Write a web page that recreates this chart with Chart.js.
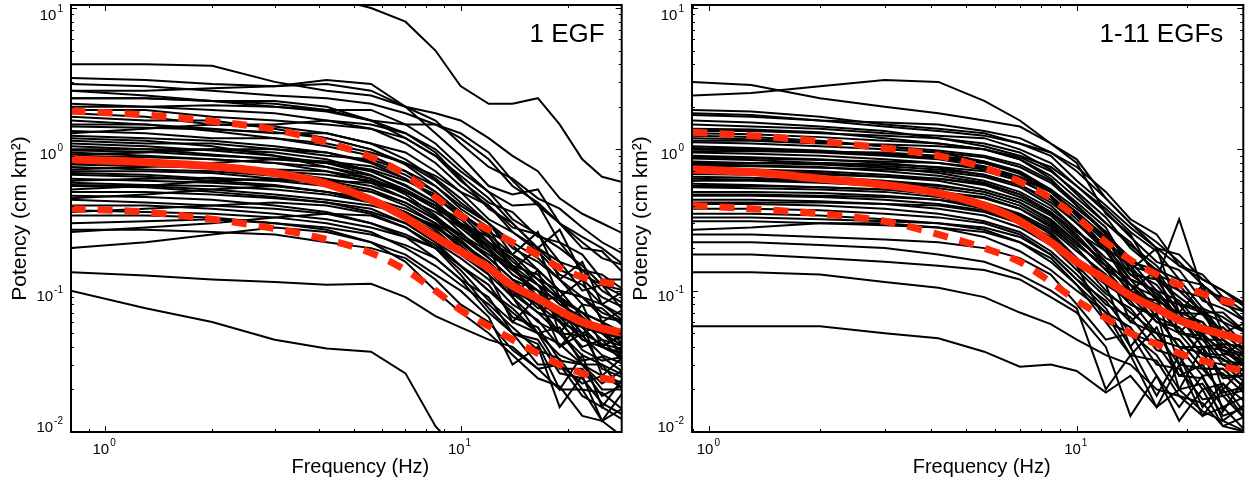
<!DOCTYPE html>
<html>
<head>
<meta charset="utf-8">
<script src="https://cdn.jsdelivr.net/npm/chart.js@4.4.1/dist/chart.umd.min.js"></script>
<style>
  body { margin: 0; background: #fff; }
  #left, #right { position: absolute; top: 0; }
  #left { left: 0; }
  #right { left: 630px; }
</style>
</head>
<body>
<canvas id="left" width="630" height="487"></canvas>
<canvas id="right" width="619" height="487"></canvas>
<script>
// Frequency samples (Hz) for each panel
const freqs1 = [0.8, 1.3, 2, 3, 4.2, 5.6, 7, 8.5, 10, 12, 14, 16.5, 19, 22, 25, 29];
const freqs11 = [0.9, 1.3, 2, 3, 4.2, 5.6, 7, 8.5, 10, 12, 14, 16.5, 19, 22, 25, 29];

// Red summary curves, 1 EGF panel
const median1 = [0.85, 0.81, 0.76, 0.68, 0.57, 0.44, 0.33, 0.24, 0.19, 0.145, 0.108, 0.088, 0.072, 0.06, 0.054, 0.05];
const upper1 = [1.87, 1.75, 1.58, 1.38, 1.12, 0.88, 0.66, 0.46, 0.34, 0.27, 0.22, 0.18, 0.145, 0.125, 0.115, 0.11];
const lower1 = [0.38, 0.36, 0.32, 0.275, 0.23, 0.185, 0.14, 0.1, 0.073, 0.056, 0.045, 0.036, 0.03, 0.026, 0.024, 0.023];

// Red summary curves, 1-11 EGFs panel
const median11 = [0.72, 0.69, 0.62, 0.56, 0.49, 0.4, 0.31, 0.22, 0.16, 0.12, 0.092, 0.075, 0.062, 0.054, 0.049, 0.044];
const upper11 = [1.32, 1.25, 1.14, 1.02, 0.9, 0.74, 0.59, 0.45, 0.33, 0.22, 0.165, 0.13, 0.11, 0.095, 0.085, 0.078];
const lower11 = [0.4, 0.38, 0.35, 0.31, 0.25, 0.2, 0.16, 0.115, 0.085, 0.064, 0.05, 0.042, 0.036, 0.032, 0.029, 0.027];

// Individual spectra (black), 1 EGF
const spectra1 = [
  [16, 16, 15, 14, 12, 10, 8, 5, 2.8, 2.1, 2.1, 2.3, 1.5, 0.85, 0.64, 0.58],
  [4.0, 4.0, 3.9, 3.0, 2.6, 2.4, 2.0, 1.6, 1.1, 0.75, 0.62, 0.45, 0.38, 0.28, 0.22, 0.18],
  [3.2, 3.1, 2.9, 2.8, 3.1, 2.9, 2.0, 1.3, 0.9, 0.55, 0.48, 0.52, 0.3, 0.24, 0.2, 0.15],
  [2.9, 2.8, 2.6, 2.4, 2.3, 2.1, 1.8, 1.5, 1.2, 0.85, 0.55, 0.42, 0.3, 0.2, 0.19, 0.13],
  [2.6, 2.6, 2.7, 2.8, 2.9, 2.6, 2.0, 1.8, 1.6, 1.2, 0.9, 0.7, 0.45, 0.35, 0.3, 0.25],
  [2.6, 2.4, 2.2, 2.2, 2.0, 1.6, 1.2, 0.9, 0.6, 0.42, 0.36, 0.24, 0.22, 0.14, 0.13, 0.1],
  [2.3, 2.3, 2.2, 2.1, 1.9, 1.6, 1.5, 1.5, 1.3, 0.95, 0.6, 0.4, 0.3, 0.22, 0.17, 0.15],
  [2.3, 2.3, 2.2, 2.0, 1.9, 1.9, 1.5, 1.1, 0.75, 0.5, 0.4, 0.41, 0.22, 0.18, 0.12, 0.12],
  [2.1, 2.0, 1.9, 1.8, 1.6, 1.4, 1.1, 0.8, 0.55, 0.4, 0.28, 0.25, 0.16, 0.14, 0.1, 0.08],
  [2.0, 2.0, 2.05, 2.0, 1.85, 1.6, 1.3, 0.95, 0.62, 0.38, 0.3, 0.2, 0.14, 0.12, 0.09, 0.075],
  [1.9, 1.9, 1.7, 1.6, 1.5, 1.4, 1.2, 0.9, 0.65, 0.45, 0.3, 0.2, 0.27, 0.13, 0.11, 0.09],
  [1.8, 1.7, 1.5, 1.5, 1.6, 1.5, 1.3, 1.0, 0.7, 0.5, 0.32, 0.25, 0.2, 0.15, 0.11, 0.1],
  [1.7, 1.6, 1.6, 1.4, 1.2, 1.0, 0.8, 0.6, 0.42, 0.3, 0.18, 0.26, 0.12, 0.16, 0.08, 0.1],
  [1.6, 1.5, 1.35, 1.2, 1.05, 0.9, 0.7, 0.5, 0.36, 0.25, 0.18, 0.14, 0.1, 0.09, 0.07, 0.06],
  [1.5, 1.5, 1.4, 1.3, 1.3, 1.1, 0.95, 0.7, 0.5, 0.32, 0.26, 0.19, 0.13, 0.11, 0.08, 0.065],
  [1.45, 1.42, 1.38, 1.32, 1.2, 1.0, 0.78, 0.55, 0.4, 0.3, 0.2, 0.16, 0.12, 0.08, 0.075, 0.055],
  [1.35, 1.3, 1.2, 1.2, 1.1, 0.95, 0.8, 0.65, 0.5, 0.4, 0.26, 0.2, 0.16, 0.1, 0.11, 0.07],
  [1.3, 1.4, 1.5, 1.45, 1.3, 1.1, 0.85, 0.62, 0.45, 0.3, 0.22, 0.17, 0.12, 0.09, 0.08, 0.06],
  [1.25, 1.2, 1.15, 1.05, 0.95, 0.8, 0.62, 0.45, 0.35, 0.26, 0.21, 0.14, 0.1, 0.09, 0.065, 0.06],
  [1.2, 1.15, 1.05, 0.9, 0.75, 0.62, 0.5, 0.4, 0.32, 0.22, 0.15, 0.11, 0.08, 0.065, 0.05, 0.04],
  [1.15, 1.1, 1.1, 1.0, 0.9, 0.85, 0.7, 0.55, 0.38, 0.28, 0.14, 0.2, 0.09, 0.12, 0.06, 0.075],
  [1.1, 1.05, 0.98, 0.9, 0.8, 0.66, 0.5, 0.38, 0.3, 0.24, 0.16, 0.12, 0.085, 0.07, 0.06, 0.05],
  [1.05, 1.0, 1.0, 0.95, 0.85, 0.7, 0.55, 0.42, 0.3, 0.22, 0.18, 0.12, 0.1, 0.065, 0.05, 0.048],
  [1.0, 1.0, 0.92, 0.85, 0.8, 0.72, 0.6, 0.48, 0.36, 0.24, 0.15, 0.13, 0.09, 0.07, 0.06, 0.04],
  [0.98, 0.96, 0.9, 0.86, 0.82, 0.76, 0.62, 0.46, 0.33, 0.2, 0.13, 0.1, 0.065, 0.055, 0.04, 0.036],
  [0.95, 0.9, 0.85, 0.8, 0.7, 0.58, 0.45, 0.33, 0.25, 0.19, 0.13, 0.1, 0.085, 0.055, 0.05, 0.04],
  [0.92, 0.95, 1.0, 1.0, 0.95, 0.82, 0.66, 0.5, 0.35, 0.22, 0.17, 0.11, 0.09, 0.07, 0.05, 0.045],
  [0.9, 0.88, 0.85, 0.8, 0.75, 0.65, 0.52, 0.4, 0.28, 0.2, 0.09, 0.14, 0.05, 0.08, 0.04, 0.05],
  [0.85, 0.82, 0.78, 0.7, 0.62, 0.55, 0.45, 0.36, 0.28, 0.19, 0.15, 0.085, 0.09, 0.055, 0.04, 0.05],
  [0.8, 0.78, 0.75, 0.7, 0.66, 0.6, 0.5, 0.38, 0.26, 0.17, 0.12, 0.1, 0.06, 0.05, 0.058, 0.03],
  [0.78, 0.76, 0.74, 0.72, 0.7, 0.62, 0.48, 0.34, 0.24, 0.18, 0.14, 0.1, 0.07, 0.06, 0.045, 0.04],
  [0.75, 0.72, 0.7, 0.65, 0.55, 0.45, 0.36, 0.28, 0.22, 0.16, 0.11, 0.075, 0.075, 0.045, 0.04, 0.035],
  [0.72, 0.75, 0.8, 0.85, 0.8, 0.7, 0.56, 0.42, 0.3, 0.2, 0.14, 0.11, 0.065, 0.06, 0.05, 0.035],
  [0.7, 0.7, 0.68, 0.62, 0.58, 0.5, 0.4, 0.3, 0.2, 0.14, 0.1, 0.08, 0.05, 0.048, 0.035, 0.03],
  [0.68, 0.66, 0.62, 0.6, 0.6, 0.58, 0.5, 0.4, 0.29, 0.21, 0.15, 0.09, 0.075, 0.05, 0.042, 0.038],
  [0.66, 0.64, 0.6, 0.56, 0.5, 0.45, 0.38, 0.3, 0.23, 0.15, 0.095, 0.07, 0.062, 0.038, 0.032, 0.034],
  [0.62, 0.6, 0.58, 0.55, 0.5, 0.42, 0.34, 0.26, 0.18, 0.13, 0.06, 0.09, 0.04, 0.06, 0.025, 0.035],
  [0.6, 0.62, 0.63, 0.6, 0.55, 0.5, 0.42, 0.32, 0.24, 0.17, 0.12, 0.085, 0.065, 0.045, 0.04, 0.033],
  [0.58, 0.56, 0.55, 0.52, 0.48, 0.42, 0.36, 0.28, 0.21, 0.14, 0.1, 0.07, 0.05, 0.032, 0.034, 0.026],
  [0.56, 0.55, 0.52, 0.48, 0.44, 0.4, 0.35, 0.29, 0.2, 0.14, 0.09, 0.05, 0.055, 0.03, 0.025, 0.022],
  [0.55, 0.54, 0.5, 0.46, 0.42, 0.36, 0.3, 0.22, 0.17, 0.12, 0.08, 0.062, 0.04, 0.05, 0.028, 0.024],
  [0.52, 0.55, 0.6, 0.62, 0.6, 0.52, 0.42, 0.32, 0.22, 0.15, 0.1, 0.08, 0.06, 0.04, 0.045, 0.03],
  [0.5, 0.5, 0.48, 0.45, 0.42, 0.38, 0.3, 0.22, 0.15, 0.1, 0.075, 0.05, 0.042, 0.03, 0.03, 0.019],
  [0.47, 0.46, 0.44, 0.4, 0.36, 0.3, 0.25, 0.2, 0.15, 0.11, 0.065, 0.055, 0.032, 0.03, 0.022, 0.028],
  [0.45, 0.48, 0.52, 0.55, 0.5, 0.44, 0.36, 0.27, 0.19, 0.13, 0.09, 0.06, 0.05, 0.035, 0.03, 0.025],
  [0.44, 0.42, 0.4, 0.38, 0.35, 0.3, 0.24, 0.17, 0.12, 0.09, 0.05, 0.042, 0.02, 0.035, 0.015, 0.025],
  [0.4, 0.4, 0.38, 0.35, 0.32, 0.28, 0.24, 0.2, 0.14, 0.085, 0.06, 0.05, 0.028, 0.028, 0.018, 0.022],
  [0.37, 0.36, 0.35, 0.33, 0.3, 0.26, 0.2, 0.15, 0.11, 0.08, 0.055, 0.038, 0.033, 0.02, 0.019, 0.014],
  [0.36, 0.38, 0.4, 0.42, 0.4, 0.35, 0.28, 0.21, 0.15, 0.1, 0.07, 0.05, 0.035, 0.03, 0.02, 0.02],
  [0.34, 0.34, 0.33, 0.3, 0.28, 0.25, 0.21, 0.17, 0.12, 0.07, 0.05, 0.045, 0.026, 0.024, 0.016, 0.013],
  [0.3, 0.31, 0.32, 0.3, 0.27, 0.22, 0.18, 0.13, 0.1, 0.065, 0.03, 0.04, 0.015, 0.025, 0.012, 0.02],
  [0.27, 0.27, 0.26, 0.25, 0.22, 0.2, 0.17, 0.12, 0.08, 0.06, 0.038, 0.028, 0.02, 0.02, 0.012, 0.015],
  [0.26, 0.28, 0.3, 0.33, 0.35, 0.34, 0.28, 0.2, 0.13, 0.075, 0.05, 0.03, 0.03, 0.018, 0.015, 0.012],
  [0.2, 0.22, 0.25, 0.28, 0.26, 0.22, 0.16, 0.1, 0.07, 0.05, 0.035, 0.024, 0.021, 0.013, 0.012, 0.009],
  [0.135, 0.128, 0.12, 0.115, 0.11, 0.112, 0.09, 0.066, 0.055, 0.045, 0.04, 0.028, 0.03, 0.022, 0.025, 0.02],
  [0.1, 0.075, 0.06, 0.045, 0.039, 0.037, 0.026, 0.011, 0.007, 0.005, 0.004, 0.004, 0.004, 0.004, 0.004, 0.004]
];

// Individual spectra (black), 1-11 EGFs
const spectra11 = [
  [2.4, 2.5, 2.8, 3.1, 3.0, 2.2, 1.6, 1.1, 0.85, 0.45, 0.3, 0.2, 0.18, 0.12, 0.1, 0.08],
  [3.0, 2.85, 2.3, 2.0, 1.8, 1.6, 1.45, 1.1, 0.8, 0.35, 0.25, 0.12, 0.32, 0.1, 0.09, 0.07],
  [1.9, 1.85, 1.7, 1.5, 1.4, 1.3, 1.1, 0.9, 0.6, 0.4, 0.28, 0.2, 0.15, 0.12, 0.1, 0.075],
  [1.8, 1.75, 1.6, 1.45, 1.35, 1.25, 1.1, 0.95, 0.75, 0.5, 0.32, 0.25, 0.15, 0.13, 0.09, 0.08],
  [1.75, 1.7, 1.6, 1.55, 1.5, 1.35, 1.2, 0.95, 0.7, 0.45, 0.3, 0.22, 0.16, 0.11, 0.08, 0.07],
  [1.6, 1.55, 1.45, 1.35, 1.2, 1.05, 0.9, 0.75, 0.55, 0.38, 0.26, 0.19, 0.12, 0.11, 0.085, 0.06],
  [1.5, 1.45, 1.4, 1.3, 1.25, 1.2, 1.0, 0.8, 0.55, 0.36, 0.24, 0.16, 0.14, 0.085, 0.075, 0.06],
  [1.4, 1.38, 1.32, 1.2, 1.1, 1.0, 0.85, 0.65, 0.45, 0.3, 0.21, 0.15, 0.1, 0.09, 0.06, 0.05],
  [1.35, 1.35, 1.3, 1.25, 1.2, 1.1, 0.95, 0.72, 0.48, 0.3, 0.22, 0.13, 0.11, 0.07, 0.07, 0.05],
  [1.3, 1.28, 1.22, 1.15, 1.1, 1.0, 0.88, 0.7, 0.5, 0.33, 0.2, 0.14, 0.12, 0.075, 0.065, 0.05],
  [1.25, 1.22, 1.15, 1.05, 0.95, 0.82, 0.68, 0.5, 0.34, 0.24, 0.17, 0.12, 0.09, 0.068, 0.05, 0.042],
  [1.2, 1.18, 1.12, 1.05, 0.98, 0.9, 0.78, 0.6, 0.42, 0.28, 0.14, 0.2, 0.07, 0.11, 0.05, 0.06],
  [1.15, 1.15, 1.1, 1.08, 1.05, 1.0, 0.85, 0.62, 0.4, 0.26, 0.16, 0.14, 0.08, 0.075, 0.05, 0.045],
  [1.12, 1.1, 1.05, 1.0, 0.95, 0.88, 0.75, 0.58, 0.4, 0.25, 0.17, 0.12, 0.1, 0.07, 0.06, 0.04],
  [1.05, 1.02, 0.98, 0.92, 0.86, 0.8, 0.68, 0.52, 0.38, 0.26, 0.15, 0.13, 0.08, 0.07, 0.05, 0.045],
  [1.02, 1.0, 0.97, 0.93, 0.88, 0.8, 0.67, 0.5, 0.35, 0.23, 0.13, 0.12, 0.07, 0.06, 0.042, 0.04],
  [1.0, 0.98, 0.95, 0.9, 0.85, 0.76, 0.64, 0.5, 0.34, 0.22, 0.16, 0.1, 0.085, 0.055, 0.055, 0.04],
  [0.97, 0.97, 0.96, 0.95, 0.9, 0.82, 0.7, 0.52, 0.34, 0.2, 0.15, 0.09, 0.08, 0.05, 0.05, 0.036],
  [0.95, 0.93, 0.9, 0.85, 0.8, 0.72, 0.62, 0.5, 0.36, 0.24, 0.14, 0.11, 0.07, 0.068, 0.045, 0.035],
  [0.9, 0.88, 0.85, 0.8, 0.74, 0.66, 0.56, 0.44, 0.3, 0.2, 0.1, 0.14, 0.05, 0.075, 0.035, 0.045],
  [0.88, 0.86, 0.84, 0.82, 0.8, 0.74, 0.62, 0.46, 0.3, 0.19, 0.12, 0.1, 0.06, 0.055, 0.04, 0.035],
  [0.86, 0.84, 0.8, 0.76, 0.72, 0.66, 0.56, 0.42, 0.3, 0.21, 0.12, 0.1, 0.065, 0.06, 0.038, 0.034],
  [0.82, 0.8, 0.78, 0.74, 0.68, 0.6, 0.5, 0.38, 0.27, 0.17, 0.14, 0.085, 0.07, 0.045, 0.045, 0.03],
  [0.8, 0.8, 0.8, 0.78, 0.75, 0.7, 0.6, 0.47, 0.32, 0.2, 0.13, 0.095, 0.065, 0.048, 0.038, 0.03],
  [0.78, 0.77, 0.75, 0.7, 0.65, 0.58, 0.48, 0.36, 0.26, 0.19, 0.11, 0.09, 0.06, 0.05, 0.036, 0.032],
  [0.76, 0.76, 0.74, 0.72, 0.7, 0.64, 0.54, 0.4, 0.27, 0.16, 0.11, 0.075, 0.07, 0.04, 0.042, 0.028],
  [0.74, 0.72, 0.7, 0.66, 0.62, 0.56, 0.46, 0.35, 0.25, 0.15, 0.12, 0.075, 0.065, 0.04, 0.038, 0.028],
  [0.7, 0.7, 0.68, 0.64, 0.6, 0.52, 0.44, 0.34, 0.23, 0.16, 0.095, 0.085, 0.05, 0.048, 0.032, 0.03],
  [0.68, 0.68, 0.66, 0.64, 0.62, 0.57, 0.48, 0.36, 0.24, 0.15, 0.1, 0.08, 0.05, 0.045, 0.03, 0.03],
  [0.67, 0.66, 0.64, 0.6, 0.56, 0.5, 0.42, 0.31, 0.22, 0.14, 0.11, 0.065, 0.055, 0.036, 0.035, 0.026],
  [0.64, 0.63, 0.6, 0.57, 0.53, 0.48, 0.4, 0.3, 0.21, 0.15, 0.06, 0.09, 0.03, 0.05, 0.02, 0.03],
  [0.62, 0.61, 0.6, 0.58, 0.55, 0.5, 0.42, 0.32, 0.22, 0.14, 0.09, 0.06, 0.055, 0.035, 0.033, 0.024],
  [0.6, 0.6, 0.58, 0.55, 0.5, 0.45, 0.38, 0.28, 0.2, 0.12, 0.1, 0.06, 0.05, 0.032, 0.03, 0.022],
  [0.57, 0.56, 0.54, 0.52, 0.48, 0.42, 0.35, 0.27, 0.19, 0.13, 0.08, 0.065, 0.04, 0.036, 0.024, 0.025],
  [0.55, 0.55, 0.54, 0.52, 0.5, 0.46, 0.38, 0.29, 0.2, 0.12, 0.08, 0.065, 0.04, 0.04, 0.025, 0.025],
  [0.54, 0.53, 0.52, 0.5, 0.46, 0.4, 0.34, 0.25, 0.17, 0.11, 0.085, 0.05, 0.045, 0.028, 0.028, 0.02],
  [0.5, 0.5, 0.49, 0.47, 0.44, 0.38, 0.31, 0.24, 0.16, 0.11, 0.04, 0.07, 0.02, 0.04, 0.014, 0.025],
  [0.48, 0.48, 0.47, 0.46, 0.44, 0.4, 0.34, 0.26, 0.17, 0.1, 0.07, 0.05, 0.045, 0.028, 0.028, 0.02],
  [0.47, 0.47, 0.46, 0.44, 0.41, 0.37, 0.3, 0.22, 0.15, 0.095, 0.075, 0.045, 0.04, 0.025, 0.026, 0.018],
  [0.44, 0.44, 0.43, 0.41, 0.38, 0.34, 0.28, 0.21, 0.14, 0.09, 0.06, 0.05, 0.03, 0.028, 0.019, 0.021],
  [0.42, 0.42, 0.42, 0.41, 0.4, 0.36, 0.3, 0.22, 0.15, 0.06, 0.035, 0.055, 0.025, 0.03, 0.018, 0.02],
  [0.41, 0.41, 0.4, 0.38, 0.35, 0.31, 0.26, 0.19, 0.13, 0.08, 0.065, 0.038, 0.034, 0.02, 0.022, 0.016],
  [0.38, 0.38, 0.37, 0.35, 0.33, 0.3, 0.25, 0.18, 0.12, 0.085, 0.05, 0.042, 0.025, 0.024, 0.015, 0.018],
  [0.35, 0.35, 0.34, 0.32, 0.3, 0.27, 0.22, 0.17, 0.11, 0.07, 0.055, 0.03, 0.028, 0.017, 0.018, 0.012],
  [0.33, 0.33, 0.32, 0.31, 0.3, 0.28, 0.24, 0.18, 0.12, 0.075, 0.04, 0.018, 0.035, 0.015, 0.022, 0.013],
  [0.31, 0.31, 0.3, 0.29, 0.28, 0.26, 0.22, 0.16, 0.11, 0.06, 0.05, 0.035, 0.02, 0.022, 0.013, 0.015],
  [0.27, 0.28, 0.3, 0.3, 0.28, 0.24, 0.19, 0.14, 0.1, 0.07, 0.035, 0.032, 0.018, 0.016, 0.011, 0.013],
  [0.25, 0.25, 0.24, 0.23, 0.22, 0.2, 0.17, 0.13, 0.08, 0.045, 0.05, 0.025, 0.015, 0.025, 0.012, 0.016],
  [0.22, 0.22, 0.21, 0.2, 0.18, 0.16, 0.13, 0.1, 0.075, 0.02, 0.035, 0.015, 0.03, 0.013, 0.02, 0.012],
  [0.18, 0.18, 0.17, 0.16, 0.15, 0.14, 0.12, 0.09, 0.07, 0.04, 0.013, 0.025, 0.012, 0.02, 0.011, 0.01],
  [0.135, 0.135, 0.13, 0.115, 0.105, 0.09, 0.07, 0.058, 0.045, 0.035, 0.03, 0.02, 0.018, 0.013, 0.015, 0.01],
  [0.056, 0.056, 0.056, 0.05, 0.046, 0.037, 0.029, 0.03, 0.027, 0.019, 0.025, 0.015, 0.02, 0.014, 0.012, 0.01]
];

const RED = '#ff2a0a';
const FONT = '"Liberation Sans", Arial, Helvetica, sans-serif';

function toPoints(freqs, ys) {
  return ys.map((v, i) => ({ x: freqs[i], y: v }));
}

function buildDatasets(freqs, lines, median, upper, lower) {
  const sets = [];
  // red curves first so they are drawn on top
  sets.push({ data: toPoints(freqs, median), borderColor: RED, borderWidth: 8, cubicInterpolationMode: 'monotone', clip: 0 });
  sets.push({ data: toPoints(freqs, upper), borderColor: RED, borderWidth: 7, borderDash: [15, 12], cubicInterpolationMode: 'monotone', clip: 0 });
  sets.push({ data: toPoints(freqs, lower), borderColor: RED, borderWidth: 7, borderDash: [15, 12], cubicInterpolationMode: 'monotone', clip: 0 });
  lines.forEach(ys => {
    sets.push({ data: toPoints(freqs, ys), borderColor: '#000', borderWidth: 2, tension: 0, clip: 0 });
  });
  sets.forEach(s => { s.pointRadius = 0; s.fill = false; });
  return sets;
}

function powLabel(ctx, exp, x, base, align) {
  ctx.font = '15px ' + FONT;
  const w1 = ctx.measureText('10').width;
  ctx.font = '10px ' + FONT;
  const w2 = ctx.measureText(exp).width;
  const total = w1 + 1 + w2;
  const left = align === 'right' ? x - total : x - total / 2;
  ctx.textAlign = 'left';
  ctx.textBaseline = 'alphabetic';
  ctx.font = '15px ' + FONT;
  ctx.fillText('10', left, base);
  ctx.font = '10px ' + FONT;
  ctx.fillText(exp, left + w1 + 1, base - 8);
}

// inward ticks on all sides, frame, tick labels, titles
const framePlugin = {
  id: 'frame',
  afterDraw(chart, args, opts) {
    const { ctx, chartArea: a, scales: { x, y } } = chart;
    ctx.save();
    ctx.strokeStyle = '#000';
    ctx.fillStyle = '#000';
    ctx.lineWidth = 1;
    ctx.beginPath();
    for (let e = -1; e <= 2; e++) {
      for (let m = 1; m <= 9; m++) {
        const v = m * Math.pow(10, e);
        if (v < x.min || v > x.max) continue;
        const px = Math.round(x.getPixelForValue(v)) + 0.5;
        const len = m === 1 ? 6 : 3;
        ctx.moveTo(px, a.bottom); ctx.lineTo(px, a.bottom - len);
        ctx.moveTo(px, a.top); ctx.lineTo(px, a.top + len);
      }
    }
    for (let e = -2; e <= 1; e++) {
      for (let m = 1; m <= 9; m++) {
        const v = m * Math.pow(10, e);
        if (v < y.min * 0.999 || v > y.max) continue;
        const py = Math.round(y.getPixelForValue(v)) + 0.5;
        const len = m === 1 ? 6 : 3;
        ctx.moveTo(a.left, py); ctx.lineTo(a.left + len, py);
        ctx.moveTo(a.right, py); ctx.lineTo(a.right - len, py);
      }
    }
    ctx.stroke();

    ctx.lineWidth = 2;
    ctx.strokeRect(a.left, a.top, a.right - a.left, a.bottom - a.top);

    // tick labels
    [1, 10].forEach(v => {
      if (v < x.min || v > x.max) return;
      powLabel(ctx, String(Math.round(Math.log10(v))), x.getPixelForValue(v) - 1, a.bottom + 22, 'center');
    });
    [0.01, 0.1, 1, 10].forEach(v => {
      const py = y.getPixelForValue(v);
      const base = Math.min(Math.max(py + 10, 20), a.bottom);
      powLabel(ctx, String(Math.round(Math.log10(v))), a.left - 8, base, 'right');
    });

    // axis titles
    ctx.textAlign = 'center';
    ctx.textBaseline = 'middle';
    ctx.font = '20px ' + FONT;
    ctx.fillText('Frequency (Hz)', (a.left + a.right) / 2 + 14, a.bottom + 35);
    ctx.save();
    ctx.font = '21px ' + FONT;
    ctx.translate(a.left - 51, (a.top + a.bottom) / 2);
    ctx.rotate(-Math.PI / 2);
    ctx.fillText('Potency (cm km\u00b2)', 0, 0);
    ctx.restore();

    // panel label
    ctx.font = '26px ' + FONT;
    ctx.textAlign = 'right';
    ctx.textBaseline = 'alphabetic';
    ctx.fillText(opts.label, a.right - opts.labelInset, a.top + 37);
    ctx.restore();
  }
};

function makeChart(id, freqs, lines, median, upper, lower, xMin, yWidth, padRight, label, labelInset) {
  return new Chart(document.getElementById(id), {
    type: 'line',
    data: { datasets: buildDatasets(freqs, lines, median, upper, lower) },
    options: {
      responsive: false,
      animation: false,
      events: [],
      layout: { padding: { top: 5, right: padRight, left: 0, bottom: 0 } },
      plugins: {
        legend: { display: false },
        tooltip: { enabled: false },
        frame: { label: label, labelInset: labelInset }
      },
      scales: {
        x: {
          type: 'logarithmic', min: xMin, max: 28.4, bounds: 'data',
          grid: { display: false }, border: { display: false }, ticks: { display: false },
          afterFit(s) { s.height = 55; }
        },
        y: {
          type: 'logarithmic', min: 0.01, max: 10.5, bounds: 'data',
          grid: { display: false }, border: { display: false }, ticks: { display: false },
          afterFit(s) { s.width = yWidth; }
        }
      }
    },
    plugins: [framePlugin]
  });
}

makeChart('left', freqs1, spectra1, median1, upper1, lower1, 0.802, 71, 8.3, '1 EGF', 17);
makeChart('right', freqs11, spectra11, median11, upper11, lower11, 0.897, 62, 5.7, '1-11 EGFs', 20);
</script>
</body>
</html>
